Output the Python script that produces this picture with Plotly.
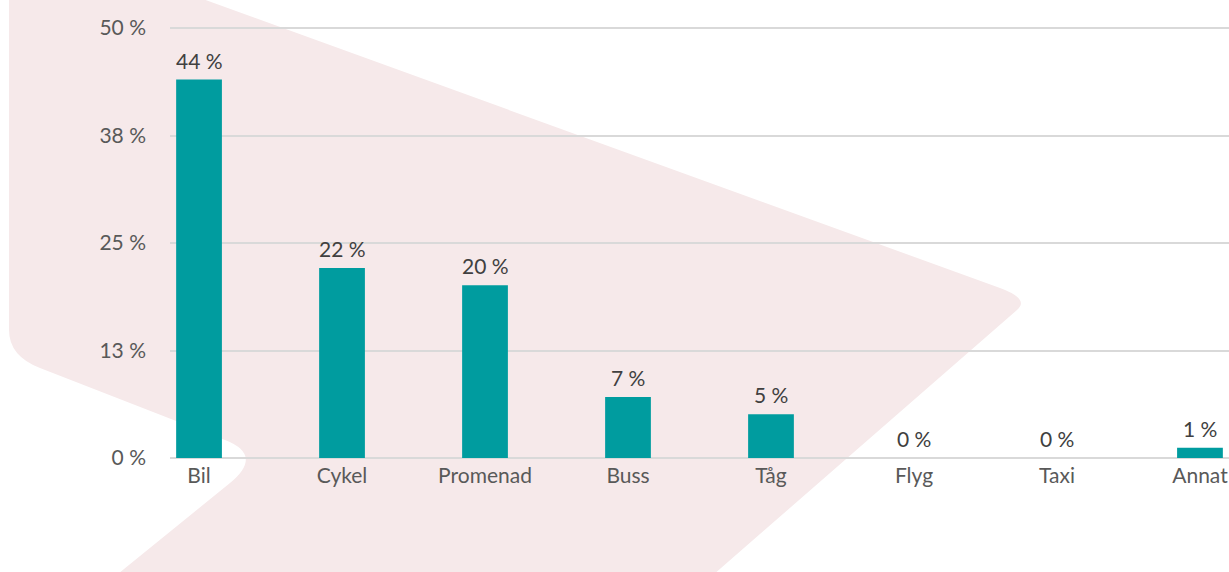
import plotly.graph_objects as go

categories = ["Bil", "Cykel", "Promenad", "Buss", "Tåg", "Flyg", "Taxi", "Annat"]
values = [44.0, 22.1, 20.1, 7.1, 5.1, 0.0, 0.0, 1.2]
y_tickvals = [0, 12.5, 25, 37.5, 50]
y_ticktext = ["0 %", "13 %", "25 %", "38 %", "50 %"]

W, H = 1229, 572
L, R, T, B = 170, 0, 25, 111
PW, PH = W - L - R, H - T - B
Y0_PX, Y50_PX = 458, 28  # pixel rows of 0 % and 50 %

TEAL = "#009c9f"
PINK = "#f6e9ea"
FONT = "Lato"
FS = 21


def px(x, y):
    return f"{(x - L) / PW:.5f},{(H - B - y) / PH:.5f}"


path = (
    f"M {px(9, -10)} L {px(178, -10)} L {px(1000, 288)} "
    f"Q {px(1030, 299)} {px(1017, 310)} L {px(705, 582)} L {px(108, 582)} "
    f"L {px(230, 483)} Q {px(264, 455)} {px(225, 440)} L {px(40, 368)} "
    f"Q {px(9, 356)} {px(9, 330)} Z"
)

# y range chosen so that 0 % and 50 % gridlines sit just inside the plot area
ppu = (Y0_PX - Y50_PX) / 50.0
ymin = -((H - B) - Y0_PX) / ppu
ymax = 50 + (Y50_PX - T) / ppu

fig = go.Figure()
fig.add_trace(go.Bar(
    x=categories, y=values, width=0.32,
    marker=dict(color=TEAL, line=dict(width=0)),
    hoverinfo="skip",
))

for c, v in zip(categories, values):
    fig.add_annotation(
        x=c, y=v, xref="x", yref="y", text=f"{v:.0f} %",
        showarrow=False, yanchor="bottom", yshift=5,
        font=dict(family=FONT, size=FS, color="#404040"),
    )

fig.update_layout(
    width=W, height=H,
    margin=dict(l=L, r=R, t=T, b=B, pad=0),
    paper_bgcolor="white", plot_bgcolor="rgba(0,0,0,0)",
    showlegend=False,
    shapes=[dict(type="path", path=path, xref="paper", yref="paper",
                 fillcolor=PINK, line=dict(width=0), layer="below")],
    font=dict(family=FONT, size=FS, color="#595959"),
)
fig.update_xaxes(
    range=[-0.203, 7.203], showgrid=False, zeroline=False, showline=False,
    ticks="", tickfont=dict(family=FONT, size=FS, color="#595959"),
    automargin=False, fixedrange=True, ticklabelstandoff=0,
)
fig.update_yaxes(
    range=[ymin, ymax], tickvals=y_tickvals, ticktext=y_ticktext,
    showgrid=True, gridcolor="#d9d9d9", gridwidth=1.5,
    zeroline=False, showline=False, ticks="",
    tickfont=dict(family=FONT, size=FS, color="#595959"),
    automargin=False, fixedrange=True, ticklabelstandoff=23,
)

fig.write_html("out.html", config={"displayModeBar": False})
